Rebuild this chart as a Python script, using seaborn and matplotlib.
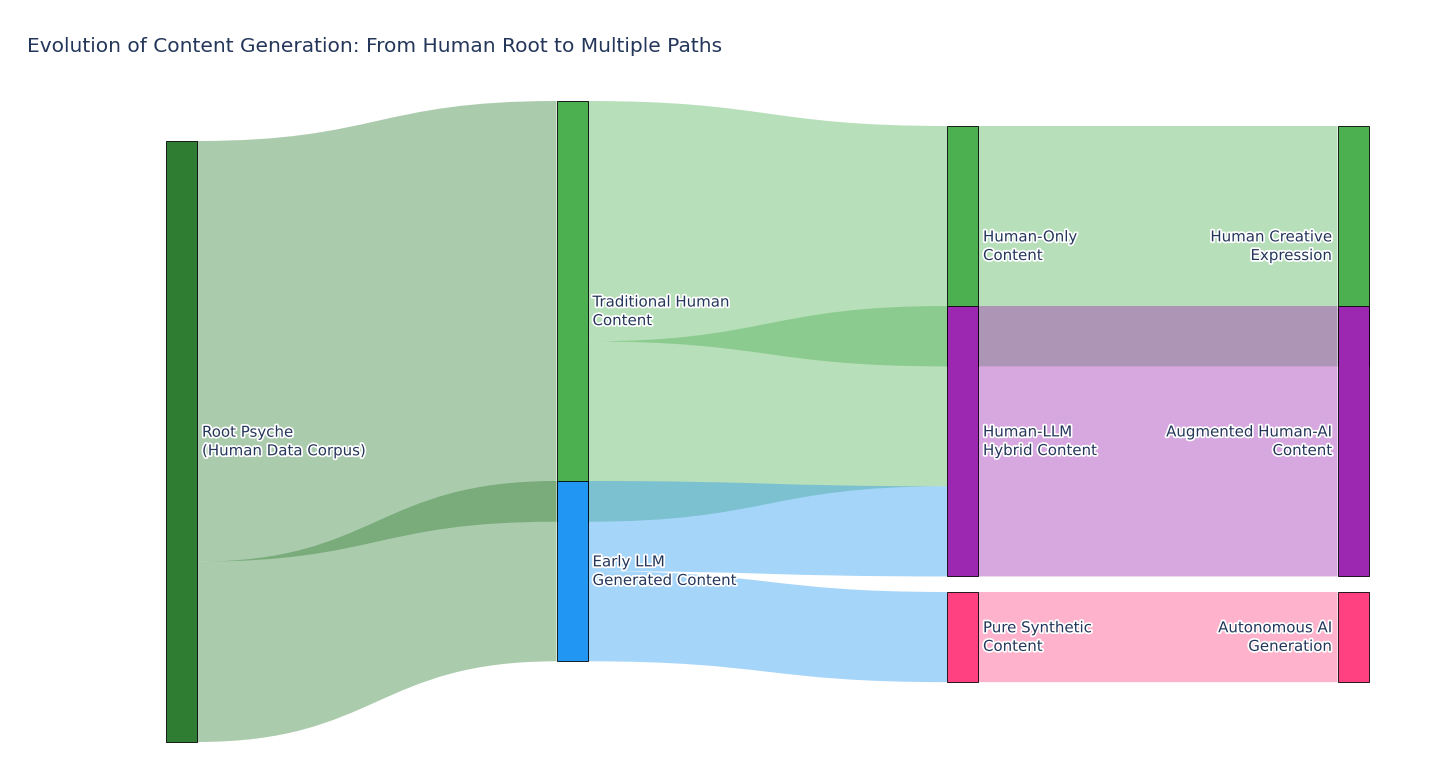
import numpy as np
import pandas as pd
import matplotlib
matplotlib.use("Agg")
import matplotlib.pyplot as plt
import seaborn as sns
from matplotlib.path import Path
from matplotlib.patches import PathPatch, Rectangle
import matplotlib.patheffects as pe

# ---------------- data ----------------
node_labels = [
    "Root Psyche\n(Human Data Corpus)",
    "Traditional Human\nContent",
    "Early LLM\nGenerated Content",
    "Human-Only\nContent",
    "Human-LLM\nHybrid Content",
    "Pure Synthetic\nContent",
    "Human Creative\nExpression",
    "Augmented Human-AI\nContent",
    "Autonomous AI\nGeneration",
]
node_colors = ["#2E7D32", "#4CAF50", "#2196F3", "#4CAF50", "#9C27B0",
               "#FF4081", "#4CAF50", "#9C27B0", "#FF4081"]

link_source = [0, 0, 1, 1, 2, 2, 3, 4, 5]
link_target = [1, 2, 3, 4, 4, 5, 6, 7, 8]
link_values = [70, 30, 40, 30, 15, 15, 40, 45, 15]
link_colors = ["rgba(46,125,50,0.4)", "rgba(46,125,50,0.4)",
               "rgba(76,175,80,0.4)", "rgba(76,175,80,0.4)",
               "rgba(33,150,243,0.4)", "rgba(33,150,243,0.4)",
               "rgba(76,175,80,0.4)", "rgba(156,39,176,0.4)",
               "rgba(255,64,129,0.4)"]

title = "Evolution of Content Generation: From Human Root to Multiple Paths"

# ---------------- layout (pixels) ----------------
W, H = 1456, 766
node_col = [0, 1, 1, 2, 2, 2, 3, 3, 3]
node_top = [141, 101, 481, 126, 306, 592, 126, 306, 592]
col_left = [166, 556.5, 947, 1337.5]
node_w = 31
px_per_unit = 6.01
text_color = "#24365a"


def rgba(s):
    v = s[s.index("(") + 1:-1].split(",")
    return (int(v[0]) / 255, int(v[1]) / 255, int(v[2]) / 255, float(v[3]))


links = pd.DataFrame({"src": link_source, "tgt": link_target,
                      "val": link_values, "color": link_colors})
n = len(node_labels)
inflow = links.groupby("tgt")["val"].sum().reindex(range(n), fill_value=0)
outflow = links.groupby("src")["val"].sum().reindex(range(n), fill_value=0)
node_h = np.maximum(inflow.values, outflow.values) * px_per_unit

# offsets of link ends at each node, ordered by the y of the other node
src_off = {}
for s, grp in links.groupby("src"):
    y = node_top[s]
    for i in sorted(grp.index, key=lambda k: node_top[links.loc[k, "tgt"]]):
        w = links.loc[i, "val"] * px_per_unit
        src_off[i] = (y, y + w)
        y += w
tgt_off = {}
for t, grp in links.groupby("tgt"):
    y = node_top[t]
    for i in sorted(grp.index, key=lambda k: node_top[links.loc[k, "src"]]):
        w = links.loc[i, "val"] * px_per_unit
        tgt_off[i] = (y, y + w)
        y += w

# ---------------- drawing ----------------
sns.set_theme(style="white")
plt.rcParams["font.family"] = ["DejaVu Sans"]

fig = plt.figure(figsize=(W / 100, H / 100), dpi=100)
ax = fig.add_axes([0, 0, 1, 1])
ax.set_xlim(0, W)
ax.set_ylim(H, 0)
ax.axis("off")
sns.despine(ax=ax, left=True, bottom=True)

for i, row in links.iterrows():
    x0 = col_left[node_col[row.src]] + node_w
    x1 = col_left[node_col[row.tgt]]
    xm = (x0 + x1) / 2
    s0, s1 = src_off[i]
    t0, t1 = tgt_off[i]
    verts = [(x0, s0), (xm, s0), (xm, t0), (x1, t0),
             (x1, t1), (xm, t1), (xm, s1), (x0, s1), (x0, s0)]
    codes = [Path.MOVETO, Path.CURVE4, Path.CURVE4, Path.CURVE4,
             Path.LINETO, Path.CURVE4, Path.CURVE4, Path.CURVE4, Path.CLOSEPOLY]
    ax.add_patch(PathPatch(Path(verts, codes), facecolor=rgba(row.color),
                           edgecolor="none", lw=0, zorder=1))

halo = [pe.withStroke(linewidth=2.5, foreground="white")]
for k in range(n):
    x = col_left[node_col[k]]
    ax.add_patch(Rectangle((x, node_top[k]), node_w, node_h[k],
                           facecolor=node_colors[k], edgecolor="black",
                           lw=0.6, zorder=2 + k * 0.01))
    cy = node_top[k] + node_h[k] / 2
    if node_col[k] < 3:
        ax.text(x + node_w + 5, cy, node_labels[k], ha="left", va="center",
                fontsize=10.8, color=text_color, linespacing=1.3,
                path_effects=halo, zorder=10)
    else:
        ax.text(x - 5, cy, node_labels[k], ha="right", va="center",
                fontsize=10.8, color=text_color, linespacing=1.3,
                multialignment="right", path_effects=halo, zorder=10)

ax.text(27, 47, title, ha="left", va="center", fontsize=14.5, color=text_color)

fig.savefig("out.png", dpi=100, facecolor="white")
